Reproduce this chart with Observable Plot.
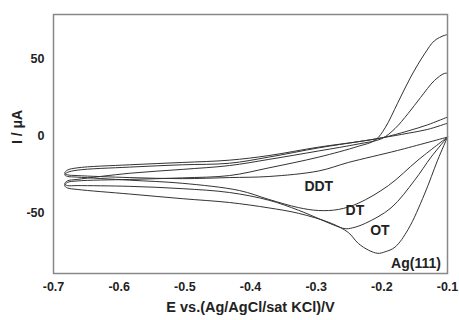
<!DOCTYPE html>
<html><head><meta charset="utf-8">
<script src="https://cdn.jsdelivr.net/npm/d3@7"></script>
<script src="https://cdn.jsdelivr.net/npm/@observablehq/plot@0.6"></script>
<style>
body{margin:0;background:#fff}
svg{font-family:"Liberation Sans",Arial,sans-serif}
</style>
</head><body><div id="chart"></div>
<script>
const xTicks = [-0.7, -0.6, -0.5, -0.4, -0.3, -0.2, -0.1];
const yTicks = [-50, 0, 50];
const seriesNames = ["Ag(111)", "OT", "DT", "DDT"];

// each series: cathodic sweep (-0.1 -> -0.68) then anodic sweep (-0.68 -> -0.1)
const agE = [-0.1, -0.115, -0.135, -0.16, -0.18, -0.195, -0.206, -0.22, -0.236, -0.251, -0.277, -0.327, -0.372, -0.432, -0.504, -0.584, -0.664, -0.679, -0.683,
             -0.679, -0.664, -0.584, -0.504, -0.432, -0.372, -0.296, -0.236, -0.21, -0.195, -0.176, -0.156, -0.135, -0.12, -0.105, -0.1];
const agI = [-1, -16, -38, -61, -72.5, -75.5, -76.5, -74.5, -70, -63, -57, -50.5, -47, -43.5, -41, -38, -35, -34, -32.5,
             -30.5, -29.5, -28.5, -27.5, -26, -21, -14, -7, -3, 5, 21, 38, 53, 61.5, 65, 65.5];

const otE = [-0.1, -0.125, -0.15, -0.186, -0.225, -0.245, -0.256, -0.274, -0.296, -0.327, -0.372, -0.432, -0.504, -0.584, -0.664, -0.679, -0.683,
             -0.679, -0.664, -0.584, -0.504, -0.432, -0.372, -0.296, -0.236, -0.2, -0.18, -0.16, -0.141, -0.12, -0.105, -0.1];
const otI = [-1, -14, -29, -47, -57, -60, -60.5, -58, -54, -48.5, -42, -37, -34.5, -33, -32.5, -32.5, -31.5,
             -29.5, -28.5, -24.5, -22, -19.5, -15.5, -10, -5.5, -2, 4.5, 14.3, 24.7, 35.7, 40.3, 40.5];

const dtE = [-0.1, -0.145, -0.19, -0.236, -0.266, -0.296, -0.327, -0.372, -0.417, -0.504, -0.584, -0.664, -0.679, -0.683,
             -0.679, -0.664, -0.584, -0.504, -0.432, -0.372, -0.296, -0.236, -0.2, -0.16, -0.13, -0.1];
const dtI = [-1, -16, -32.5, -44, -48, -48.7, -46.8, -41.5, -35.7, -31, -29, -27, -26.5, -25.5,
             -24, -22.5, -20.5, -19, -18, -14, -8, -4, -1.5, 3, 7, 12];

const ddtE = [-0.1, -0.176, -0.251, -0.296, -0.372, -0.432, -0.504, -0.584, -0.664, -0.679, -0.683,
              -0.679, -0.664, -0.584, -0.504, -0.432, -0.372, -0.296, -0.236, -0.2, -0.16, -0.13, -0.1];
const ddtI = [-1, -9.7, -17.5, -23, -26.6, -27.3, -28, -27.3, -26, -25.5, -24.5,
              -22.5, -21, -19, -17.5, -16, -13, -7.5, -4, -1.5, 1.5, 4, 8];

const labelE = [-0.148, -0.203, -0.241, -0.296];
const labelI = [-83, -61.7, -48.7, -33];

const allE = [agE, otE, dtE, ddtE];
const allI = [agI, otI, dtI, ddtI];
const rows = [];
seriesNames.forEach((name, s) => {
  allE[s].forEach((e, i) => rows.push({series: name, E: e, I: allI[s][i]}));
});
const labels = seriesNames.map((name, s) => ({name, E: labelE[s], I: labelI[s]}));

const chart = Plot.plot({
  width: 459,
  height: 320,
  marginLeft: 53,
  marginRight: 12,
  marginTop: 14,
  marginBottom: 47,
  style: {fontSize: "12.5px", fontWeight: "bold", color: "#222", background: "#fff"},
  x: {domain: [-0.7, -0.1]},
  y: {domain: [-89.6, 78.6]},
  marks: [
    Plot.axisX({ticks: xTicks, tickSize: 0, tickPadding: 9, tickFormat: d => d.toFixed(1), label: null}),
    Plot.axisY({ticks: yTicks, tickSize: 0, tickPadding: 9, tickFormat: d => String(d), label: null}),
    Plot.line(rows, {x: "E", y: "I", z: "series", curve: "catmull-rom", stroke: "#333", strokeWidth: 1}),
    Plot.text(labels, {x: "E", y: "I", text: "name", fontSize: 14, fontWeight: "bold", fill: "#222"}),
    Plot.frame({stroke: "#888", strokeWidth: 1.5}),
    Plot.text(["E vs.(Ag/AgCl/sat KCl)/V"], {frameAnchor: "bottom", dy: 38, fontSize: 14.5, fontWeight: "bold", fill: "#222"}),
    Plot.text(["I / μA"], {frameAnchor: "left", rotate: -90, dx: -36, fontSize: 14, fontWeight: "bold", fill: "#222"})
  ]
});
document.getElementById("chart").appendChild(chart);
</script>
</body></html>
